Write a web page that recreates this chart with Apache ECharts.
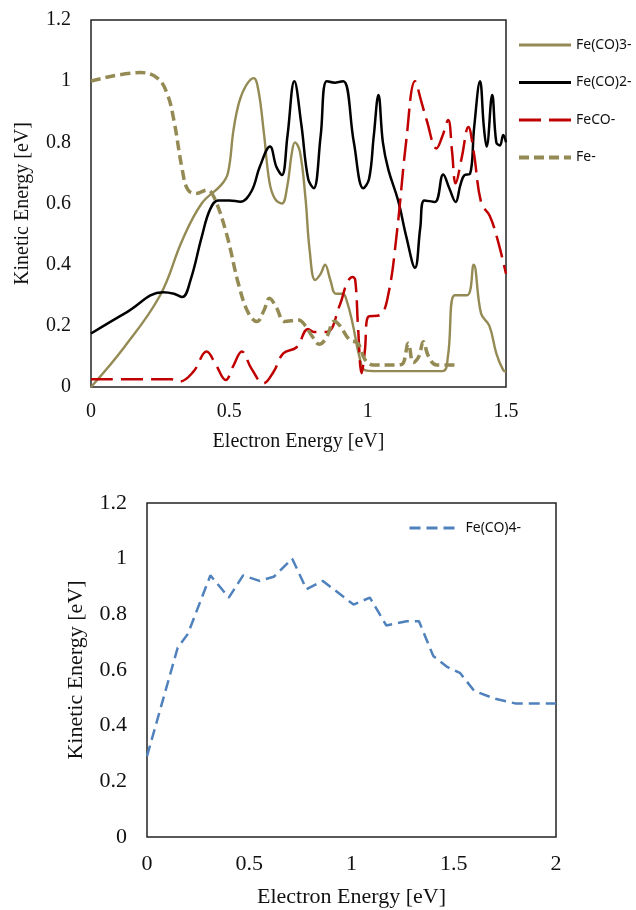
<!DOCTYPE html>
<html>
<head>
<meta charset="utf-8">
<script src="https://cdn.jsdelivr.net/npm/echarts@6/dist/echarts.min.js"></script>
<style>
  html, body { margin: 0; padding: 0; background: #fff; }
  #chart { width: 636px; height: 910px; }
</style>
</head>
<body>
<div id="chart"></div>
<script>
// ---- Top chart data (Electron Energy [eV] vs Kinetic Energy [eV]) ----
const feCO3X = [0, 0.12, 0.25, 0.33, 0.40, 0.47, 0.495, 0.515, 0.535, 0.56, 0.588, 0.605, 0.625, 0.645, 0.665, 0.69, 0.71, 0.725, 0.737, 0.755, 0.775, 0.79, 0.81, 0.83, 0.846, 0.865, 0.885, 0.91, 0.925, 0.945, 0.97, 0.99, 1.03, 1.27, 1.29, 1.315, 1.36, 1.383, 1.41, 1.44, 1.465, 1.49, 1.5];
const feCO3Y = [0, 0.13, 0.30, 0.48, 0.60, 0.66, 0.70, 0.84, 0.93, 0.985, 1.01, 0.97, 0.83, 0.67, 0.615, 0.60, 0.66, 0.76, 0.80, 0.77, 0.62, 0.45, 0.35, 0.37, 0.40, 0.35, 0.305, 0.305, 0.28, 0.21, 0.10, 0.055, 0.052, 0.052, 0.10, 0.30, 0.30, 0.40, 0.24, 0.20, 0.11, 0.055, 0.05];

const feCO2X = [0, 0.13, 0.26, 0.30, 0.33, 0.36, 0.40, 0.43, 0.46, 0.50, 0.54, 0.58, 0.61, 0.647, 0.67, 0.69, 0.71, 0.735, 0.76, 0.785, 0.805, 0.83, 0.852, 0.882, 0.912, 0.95, 0.984, 1.005, 1.022, 1.039, 1.055, 1.075, 1.11, 1.14, 1.171, 1.19, 1.205, 1.243, 1.273, 1.295, 1.318, 1.335, 1.35, 1.37, 1.385, 1.406, 1.42, 1.43, 1.45, 1.465, 1.478, 1.49, 1.5];
const feCO2Y = [0.175, 0.245, 0.31, 0.305, 0.294, 0.35, 0.49, 0.58, 0.61, 0.61, 0.606, 0.64, 0.72, 0.786, 0.72, 0.693, 0.82, 1.0, 0.86, 0.68, 0.65, 0.82, 1.0, 0.995, 1.0, 0.8, 0.65, 0.68, 0.82, 0.955, 0.80, 0.71, 0.61, 0.49, 0.39, 0.52, 0.61, 0.605, 0.695, 0.65, 0.605, 0.66, 0.693, 0.697, 0.85, 1.0, 0.85, 0.786, 0.955, 0.80, 0.79, 0.824, 0.80];

const fecoX = [0, 0.29, 0.32, 0.37, 0.418, 0.45, 0.487, 0.515, 0.545, 0.58, 0.623, 0.66, 0.695, 0.743, 0.785, 0.805, 0.852, 0.90, 0.925, 0.945, 0.955, 0.965, 0.978, 0.99, 1.002, 1.044, 1.074, 1.105, 1.14, 1.171, 1.195, 1.213, 1.249, 1.27, 1.291, 1.305, 1.318, 1.34, 1.364, 1.383, 1.411, 1.441, 1.47, 1.5];
const fecoY = [0.025, 0.025, 0.018, 0.05, 0.116, 0.075, 0.023, 0.07, 0.116, 0.06, 0.012, 0.05, 0.11, 0.13, 0.19, 0.18, 0.18, 0.27, 0.34, 0.36, 0.35, 0.20, 0.045, 0.12, 0.23, 0.235, 0.30, 0.50, 0.81, 1.0, 0.93, 0.873, 0.78, 0.82, 0.873, 0.77, 0.666, 0.75, 0.85, 0.77, 0.60, 0.56, 0.48, 0.37];

const feX = [0, 0.18, 0.24, 0.275, 0.30, 0.33, 0.35, 0.38, 0.42, 0.445, 0.49, 0.535, 0.57, 0.60, 0.625, 0.645, 0.67, 0.70, 0.75, 0.775, 0.80, 0.825, 0.85, 0.88, 0.90, 0.935, 0.965, 0.99, 1.02, 1.10, 1.125, 1.147, 1.165, 1.185, 1.201, 1.22, 1.249, 1.316];
const feY = [1.0, 1.028, 1.01, 0.96, 0.87, 0.71, 0.645, 0.633, 0.644, 0.62, 0.50, 0.33, 0.24, 0.214, 0.25, 0.29, 0.26, 0.214, 0.219, 0.20, 0.165, 0.14, 0.16, 0.215, 0.20, 0.154, 0.143, 0.09, 0.072, 0.072, 0.075, 0.143, 0.08, 0.10, 0.148, 0.10, 0.072, 0.072];

// ---- Bottom chart data ----
const feCO4X = [0, 0.15, 0.20, 0.31, 0.40, 0.47, 0.55, 0.62, 0.71, 0.78, 0.86, 1.01, 1.09, 1.17, 1.27, 1.33, 1.40, 1.47, 1.53, 1.60, 1.70, 1.80, 2.0];
const feCO4Y = [0.29, 0.68, 0.73, 0.94, 0.86, 0.94, 0.92, 0.935, 1.0, 0.89, 0.92, 0.835, 0.86, 0.76, 0.775, 0.775, 0.65, 0.61, 0.59, 0.525, 0.497, 0.48, 0.48];

// ---- Axis settings ----
const topXTicks = [0, 0.5, 1, 1.5];
const bottomXTicks = [0, 0.5, 1, 1.5, 2];
const yTicks = [0, 0.2, 0.4, 0.6, 0.8, 1, 1.2];

const zip = (xs, ys) => xs.map((x, i) => [x, ys[i]]);

const serif = 'Liberation Serif';
const tan = '#948A54';

const styles = {
  'Fe(CO)3-': { color: tan, width: 2.4, legendWidth: 3, type: 'solid' },
  'Fe(CO)2-': { color: '#000', width: 2.5, legendWidth: 3, type: 'solid' },
  'FeCO-': { color: '#C00000', width: 2.5, legendWidth: 3, type: [22, 8] },
  'Fe-': { color: tan, width: 3.5, legendWidth: 4, type: [10, 5] },
  'Fe(CO)4-': { color: '#4F81BD', width: 2.5, legendWidth: 3, type: [11, 6] }
};

function xAxisCfg(gridIndex, max, fs, gap, nameGap) {
  return {
    type: 'value', gridIndex, min: 0, max, interval: 0.5,
    name: 'Electron Energy [eV]', nameLocation: 'middle', nameGap,
    nameTextStyle: { fontFamily: serif, fontSize: fs, color: '#111' },
    axisLine: { show: false }, axisTick: { show: false }, splitLine: { show: false },
    axisLabel: { fontFamily: serif, fontSize: fs, color: '#111', margin: gap }
  };
}
function yAxisCfg(gridIndex, fs, nameGap) {
  return {
    type: 'value', gridIndex, min: 0, max: 1.2, interval: 0.2,
    name: 'Kinetic Energy [eV]', nameLocation: 'middle', nameGap,
    nameTextStyle: { fontFamily: serif, fontSize: fs, color: '#111' },
    axisLine: { show: false }, axisTick: { show: false }, splitLine: { show: false },
    axisLabel: { fontFamily: serif, fontSize: fs, color: '#111', margin: 20 }
  };
}
function legendItem(name) {
  const s = styles[name];
  return { name, lineStyle: { color: s.color, width: s.legendWidth, type: s.type }, itemStyle: { opacity: 0 } };
}
function lineSeries(name, xs, ys, axisIdx, smooth) {
  const s = styles[name];
  return {
    name, type: 'line', xAxisIndex: axisIdx, yAxisIndex: axisIdx,
    data: zip(xs, ys), smooth, symbol: 'none',
    lineStyle: { color: s.color, width: s.width, type: s.type }, itemStyle: { color: s.color }
  };
}

const chart = echarts.init(document.getElementById('chart'), null, { renderer: 'canvas' });
chart.setOption({
  animation: false,
  backgroundColor: '#fff',
  grid: [
    { left: 91, right: 130, top: 20, bottom: 523, show: true, borderColor: '#222', borderWidth: 1.5, containLabel: false },
    { left: 147, right: 80, top: 503, bottom: 73, show: true, borderColor: '#222', borderWidth: 1.5, containLabel: false }
  ],
  xAxis: [xAxisCfg(0, 1.5, 20, 15, 45), xAxisCfg(1, 2, 22, 16, 49)],
  yAxis: [yAxisCfg(0, 20, 58), yAxisCfg(1, 22, 60)],
  legend: [
    {
      data: ['Fe(CO)3-', 'Fe(CO)2-', 'FeCO-', 'Fe-'].map(legendItem),
      orient: 'vertical', left: 512, top: 33,
      itemWidth: 52, itemHeight: 14, itemGap: 23.5,
      itemStyle: { opacity: 0 },
      textStyle: { fontFamily: 'Noto Sans', fontSize: 14, color: '#111' }
    },
    {
      data: ['Fe(CO)4-'].map(legendItem),
      orient: 'vertical', left: 403, top: 516,
      itemWidth: 51, itemHeight: 14,
      itemStyle: { opacity: 0 },
      textStyle: { fontFamily: 'Noto Sans', fontSize: 14, color: '#111' }
    }
  ],
  series: [
    lineSeries('Fe(CO)3-', feCO3X, feCO3Y, 0, 0.4),
    lineSeries('Fe(CO)2-', feCO2X, feCO2Y, 0, 0.4),
    lineSeries('FeCO-', fecoX, fecoY, 0, 0.4),
    lineSeries('Fe-', feX, feY, 0, 0.4),
    lineSeries('Fe(CO)4-', feCO4X, feCO4Y, 1, false)
  ]
});
</script>
</body>
</html>
